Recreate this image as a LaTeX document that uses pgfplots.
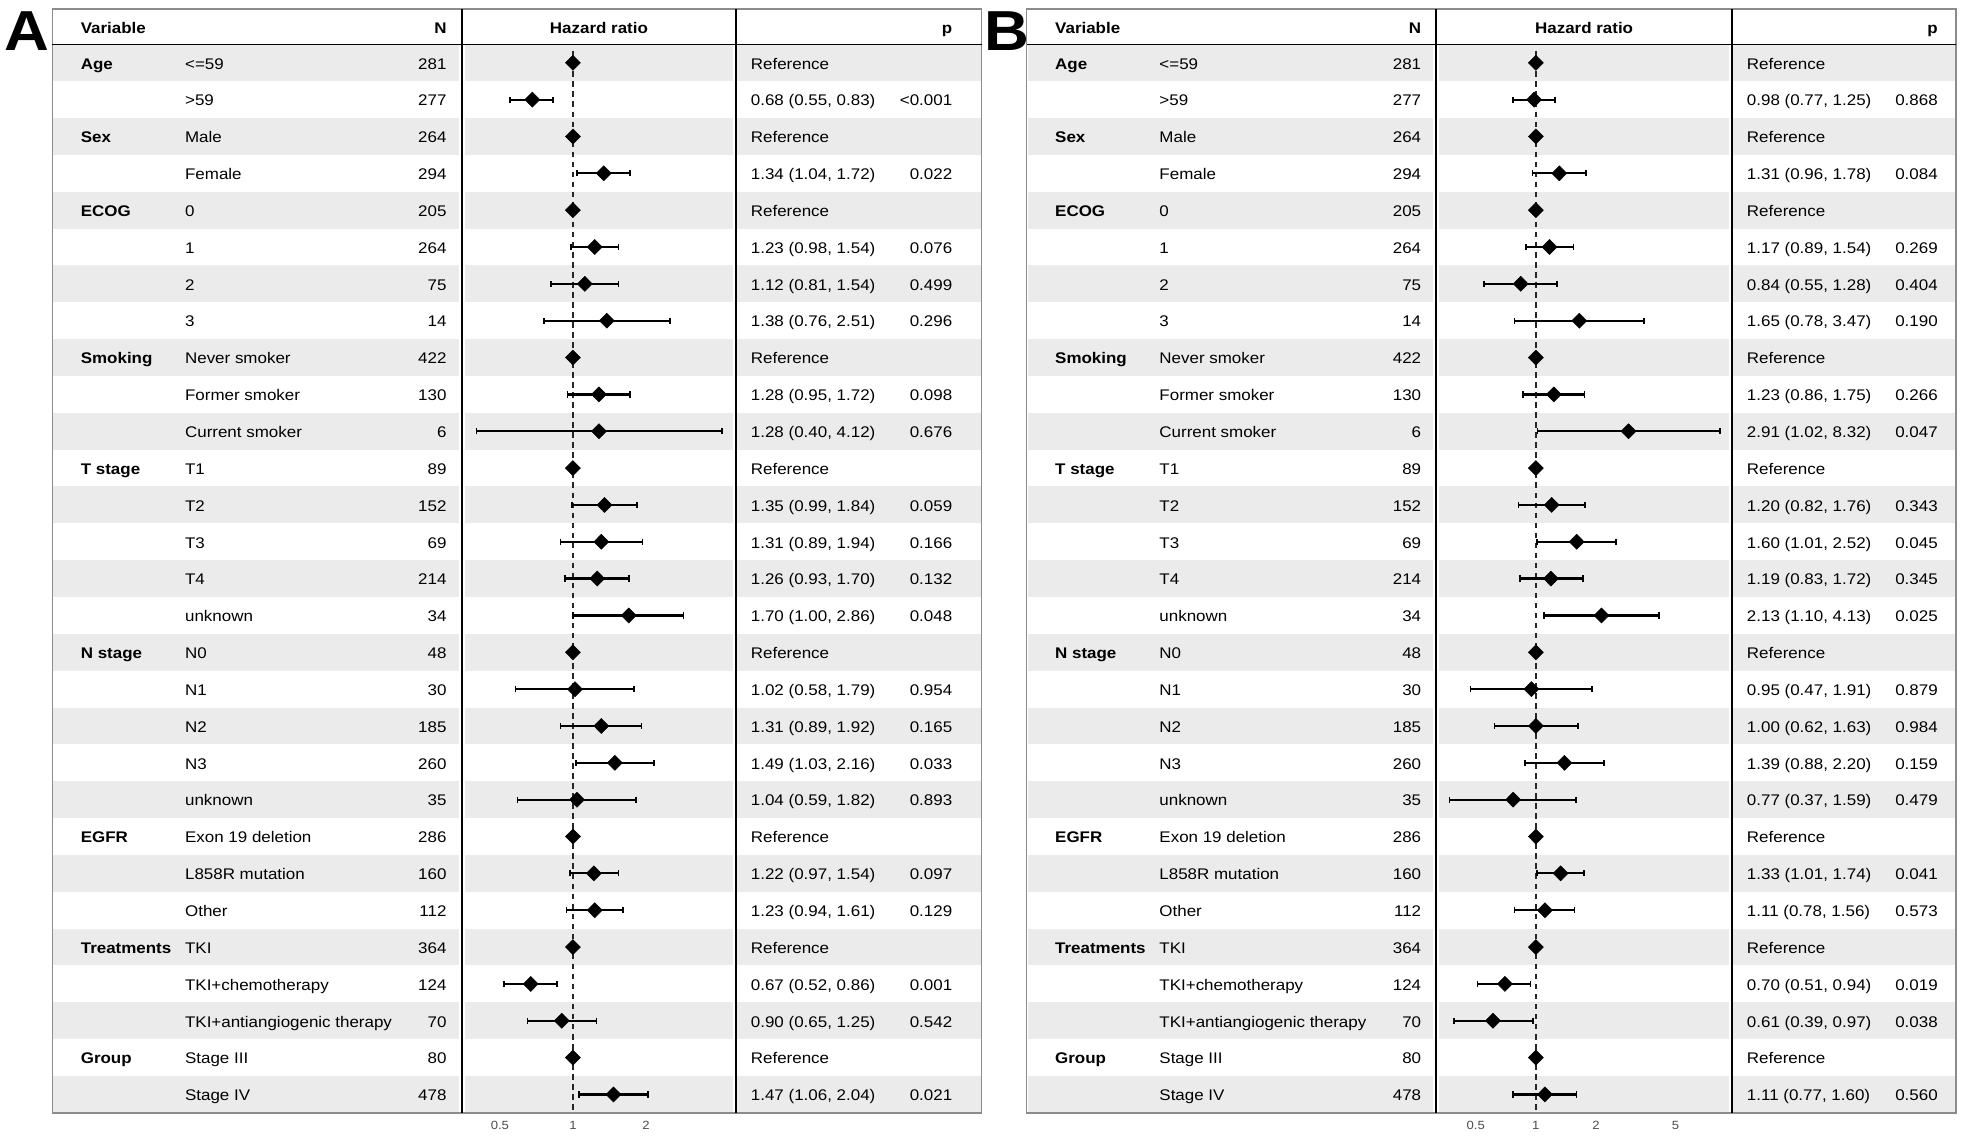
\documentclass[border=0pt]{standalone}
\usepackage{fontspec}
\setmainfont{Liberation Sans}[FakeStretch=1.1]
\usepackage{pgfplots}
\pgfplotsset{compat=1.18}
\usepackage{pgfplotstable}

\definecolor{rowgray}{HTML}{EBEBEB}
\definecolor{boxgray}{HTML}{8C8C8C}
\definecolor{tickgray}{HTML}{4D4D4D}

% row: position from the top, hr: hazard ratio, lo/hi: 95% CI
% (reference levels sit at 1 with no interval)
\pgfplotstableread{
row hr   lo   hi
1   1    1    1
2   0.68 0.55 0.83
3   1    1    1
4   1.34 1.04 1.72
5   1    1    1
6   1.23 0.98 1.54
7   1.12 0.81 1.54
8   1.38 0.76 2.51
9   1    1    1
10  1.28 0.95 1.72
11  1.28 0.40 4.12
12  1    1    1
13  1.35 0.99 1.84
14  1.31 0.89 1.94
15  1.26 0.93 1.70
16  1.70 1.00 2.86
17  1    1    1
18  1.02 0.58 1.79
19  1.31 0.89 1.92
20  1.49 1.03 2.16
21  1.04 0.59 1.82
22  1    1    1
23  1.22 0.97 1.54
24  1.23 0.94 1.61
25  1    1    1
26  0.67 0.52 0.86
27  0.90 0.65 1.25
28  1    1    1
29  1.47 1.06 2.04
}\hrA

\pgfplotstableread{
row hr   lo   hi
1   1    1    1
2   0.98 0.77 1.25
3   1    1    1
4   1.31 0.96 1.78
5   1    1    1
6   1.17 0.89 1.54
7   0.84 0.55 1.28
8   1.65 0.78 3.47
9   1    1    1
10  1.23 0.86 1.75
11  2.91 1.02 8.32
12  1    1    1
13  1.20 0.82 1.76
14  1.60 1.01 2.52
15  1.19 0.83 1.72
16  2.13 1.10 4.13
17  1    1    1
18  0.95 0.47 1.91
19  1.00 0.62 1.63
20  1.39 0.88 2.20
21  0.77 0.37 1.59
22  1    1    1
23  1.33 1.01 1.74
24  1.11 0.78 1.56
25  1    1    1
26  0.70 0.51 0.94
27  0.61 0.39 0.97
28  1    1    1
29  1.11 0.77 1.60
}\hrB

% table geometry (pt, y downwards)
\def\tabtop{35.4}
\def\rowh{29.4}
\def\tabbot{888}

% one text row: index, group, level, N, estimate, p
\newcommand\trow[6]{%
  \node[anchor=base west] at (\colg,{\tabtop+(#1-0.5)*\rowh+5}) {\bfseries #2};
  \node[anchor=base west] at (\coll,{\tabtop+(#1-0.5)*\rowh+5}) {#3};
  \node[anchor=base east] at (\coln,{\tabtop+(#1-0.5)*\rowh+5}) {#4};
  \node[anchor=base west] at (\cole,{\tabtop+(#1-0.5)*\rowh+5}) {#5};
  \node[anchor=base east] at (\colp,{\tabtop+(#1-0.5)*\rowh+5}) {#6};
}

% frame, stripes and header of one panel: left, divider 1, divider 2, right
\newcommand\panel[4]{%
  \foreach \i in {1,3,...,29} {
    \fill[rowgray] (#1+0.6,{\tabtop+(\i-1)*\rowh}) rectangle (#2-2.5,{\tabtop+\i*\rowh});
    \fill[rowgray] (#2+2.5,{\tabtop+(\i-1)*\rowh}) rectangle (#3-2.5,{\tabtop+\i*\rowh});
    \fill[rowgray] (#3+0.8,{\tabtop+(\i-1)*\rowh}) rectangle (#4-0.6,{\tabtop+\i*\rowh});
  }
  \draw[boxgray, line width=1.1pt] (#1,7.2) rectangle (#4,\tabbot);
  \draw[black, line width=1.3pt] (#1,\tabtop) -- (#4,\tabtop);
  \draw[black, line width=1.3pt] (#2,7.2) -- (#2,\tabbot);
  \draw[black, line width=1.3pt] (#3,7.2) -- (#3,\tabbot);
  \node[anchor=base west] at (\colg,26.6) {\bfseries Variable};
  \node[anchor=base east] at (\coln,26.6) {\bfseries N};
  \node[anchor=base] at ({(#2+#3)/2},26.6) {\bfseries Hazard ratio};
  \node[anchor=base east] at (\colp,26.6) {\bfseries p};
}

\begin{document}
\fontsize{12.3}{15}\selectfont
\begin{tikzpicture}
\begin{scope}[x=1pt, y=-1pt, every node/.style={inner sep=0pt}]
  \useasboundingbox (0,0) rectangle (1568,908);

  \node[anchor=base west] at (3,40) {\fontsize{45}{45}\selectfont\bfseries A};
  \node[anchor=base west] at (785,40) {\fontsize{45}{45}\selectfont\bfseries B};

  % panel A
  \def\colg{64.3}\def\coll{147.5}\def\coln{356.5}\def\cole{599}\def\colp{760}
  \panel{41.8}{368.7}{587.2}{783.3}
  \trow{1}{Age}{<=59}{281}{Reference}{}
  \trow{2}{}{>59}{277}{0.68 (0.55, 0.83)}{<0.001}
  \trow{3}{Sex}{Male}{264}{Reference}{}
  \trow{4}{}{Female}{294}{1.34 (1.04, 1.72)}{0.022}
  \trow{5}{ECOG}{0}{205}{Reference}{}
  \trow{6}{}{1}{264}{1.23 (0.98, 1.54)}{0.076}
  \trow{7}{}{2}{75}{1.12 (0.81, 1.54)}{0.499}
  \trow{8}{}{3}{14}{1.38 (0.76, 2.51)}{0.296}
  \trow{9}{Smoking}{Never smoker}{422}{Reference}{}
  \trow{10}{}{Former smoker}{130}{1.28 (0.95, 1.72)}{0.098}
  \trow{11}{}{Current smoker}{6}{1.28 (0.40, 4.12)}{0.676}
  \trow{12}{T stage}{T1}{89}{Reference}{}
  \trow{13}{}{T2}{152}{1.35 (0.99, 1.84)}{0.059}
  \trow{14}{}{T3}{69}{1.31 (0.89, 1.94)}{0.166}
  \trow{15}{}{T4}{214}{1.26 (0.93, 1.70)}{0.132}
  \trow{16}{}{unknown}{34}{1.70 (1.00, 2.86)}{0.048}
  \trow{17}{N stage}{N0}{48}{Reference}{}
  \trow{18}{}{N1}{30}{1.02 (0.58, 1.79)}{0.954}
  \trow{19}{}{N2}{185}{1.31 (0.89, 1.92)}{0.165}
  \trow{20}{}{N3}{260}{1.49 (1.03, 2.16)}{0.033}
  \trow{21}{}{unknown}{35}{1.04 (0.59, 1.82)}{0.893}
  \trow{22}{EGFR}{Exon 19 deletion}{286}{Reference}{}
  \trow{23}{}{L858R mutation}{160}{1.22 (0.97, 1.54)}{0.097}
  \trow{24}{}{Other}{112}{1.23 (0.94, 1.61)}{0.129}
  \trow{25}{Treatments}{TKI}{364}{Reference}{}
  \trow{26}{}{TKI+chemotherapy}{124}{0.67 (0.52, 0.86)}{0.001}
  \trow{27}{}{TKI+antiangiogenic therapy}{70}{0.90 (0.65, 1.25)}{0.542}
  \trow{28}{Group}{Stage III}{80}{Reference}{}
  \trow{29}{}{Stage IV}{478}{1.47 (1.06, 2.04)}{0.021}

  % panel B
  \def\colg{841.8}\def\coll{925}\def\coln{1134.2}\def\cole{1393.8}\def\colp{1546.4}
  \panel{819.3}{1145.8}{1382.3}{1560.8}
  \trow{1}{Age}{<=59}{281}{Reference}{}
  \trow{2}{}{>59}{277}{0.98 (0.77, 1.25)}{0.868}
  \trow{3}{Sex}{Male}{264}{Reference}{}
  \trow{4}{}{Female}{294}{1.31 (0.96, 1.78)}{0.084}
  \trow{5}{ECOG}{0}{205}{Reference}{}
  \trow{6}{}{1}{264}{1.17 (0.89, 1.54)}{0.269}
  \trow{7}{}{2}{75}{0.84 (0.55, 1.28)}{0.404}
  \trow{8}{}{3}{14}{1.65 (0.78, 3.47)}{0.190}
  \trow{9}{Smoking}{Never smoker}{422}{Reference}{}
  \trow{10}{}{Former smoker}{130}{1.23 (0.86, 1.75)}{0.266}
  \trow{11}{}{Current smoker}{6}{2.91 (1.02, 8.32)}{0.047}
  \trow{12}{T stage}{T1}{89}{Reference}{}
  \trow{13}{}{T2}{152}{1.20 (0.82, 1.76)}{0.343}
  \trow{14}{}{T3}{69}{1.60 (1.01, 2.52)}{0.045}
  \trow{15}{}{T4}{214}{1.19 (0.83, 1.72)}{0.345}
  \trow{16}{}{unknown}{34}{2.13 (1.10, 4.13)}{0.025}
  \trow{17}{N stage}{N0}{48}{Reference}{}
  \trow{18}{}{N1}{30}{0.95 (0.47, 1.91)}{0.879}
  \trow{19}{}{N2}{185}{1.00 (0.62, 1.63)}{0.984}
  \trow{20}{}{N3}{260}{1.39 (0.88, 2.20)}{0.159}
  \trow{21}{}{unknown}{35}{0.77 (0.37, 1.59)}{0.479}
  \trow{22}{EGFR}{Exon 19 deletion}{286}{Reference}{}
  \trow{23}{}{L858R mutation}{160}{1.33 (1.01, 1.74)}{0.041}
  \trow{24}{}{Other}{112}{1.11 (0.78, 1.56)}{0.573}
  \trow{25}{Treatments}{TKI}{364}{Reference}{}
  \trow{26}{}{TKI+chemotherapy}{124}{0.70 (0.51, 0.94)}{0.019}
  \trow{27}{}{TKI+antiangiogenic therapy}{70}{0.61 (0.39, 0.97)}{0.038}
  \trow{28}{Group}{Stage III}{80}{Reference}{}
  \trow{29}{}{Stage IV}{478}{1.11 (0.77, 1.60)}{0.560}
\end{scope}

\begin{axis}[xmode=log, log basis x=2,
  at={(368.7pt,-888pt)}, anchor=south west, scale only axis,
  width=218.5pt, height=852.6pt,
  xmin=0.349, xmax=4.70, ymin=-29.5, ymax=-0.5,
  xtick={0.5,1,2}, xticklabels={0.5,1,2}, ytick=\empty,
  axis line style={draw=none}, major tick length=0pt,
  xticklabel style={font=\fontsize{9.5}{10}\selectfont, text=tickgray, yshift=-2.5pt},
  clip=false]
  \addplot[line width=1.4pt, black!85, dash pattern=on 4.5pt off 3.5pt]
    coordinates {(1,-0.69) (1,-29.5)};
  \addplot[only marks, mark=none,
    error bars/x dir=both, error bars/x explicit,
    error bars/error mark=|,
    error bars/error bar style={line width=1.8pt, black},
    error bars/error mark options={line width=1.3pt, mark size=2.5pt, black}]
    table[x=hr, y expr=-\thisrow{row},
    x error plus expr=\thisrow{hi}-\thisrow{hr},
    x error minus expr=\thisrow{hr}-\thisrow{lo}] {\hrA};
  \addplot[only marks, mark=diamond*, mark size=6pt,
    mark options={xscale=1.33, black, fill=black}]
    table[x=hr, y expr=-\thisrow{row}] {\hrA};
\end{axis}

\begin{axis}[xmode=log, log basis x=2,
  at={(1145.8pt,-888pt)}, anchor=south west, scale only axis,
  width=236.5pt, height=852.6pt,
  xmin=0.316, xmax=9.62, ymin=-29.5, ymax=-0.5,
  xtick={0.5,1,2,5}, xticklabels={0.5,1,2,5}, ytick=\empty,
  axis line style={draw=none}, major tick length=0pt,
  xticklabel style={font=\fontsize{9.5}{10}\selectfont, text=tickgray, yshift=-2.5pt},
  clip=false]
  \addplot[line width=1.4pt, black!85, dash pattern=on 4.5pt off 3.5pt]
    coordinates {(1,-0.69) (1,-29.5)};
  \addplot[only marks, mark=none,
    error bars/x dir=both, error bars/x explicit,
    error bars/error mark=|,
    error bars/error bar style={line width=1.8pt, black},
    error bars/error mark options={line width=1.3pt, mark size=2.5pt, black}]
    table[x=hr, y expr=-\thisrow{row},
    x error plus expr=\thisrow{hi}-\thisrow{hr},
    x error minus expr=\thisrow{hr}-\thisrow{lo}] {\hrB};
  \addplot[only marks, mark=diamond*, mark size=6pt,
    mark options={xscale=1.33, black, fill=black}]
    table[x=hr, y expr=-\thisrow{row}] {\hrB};
\end{axis}
\end{tikzpicture}
\end{document}
